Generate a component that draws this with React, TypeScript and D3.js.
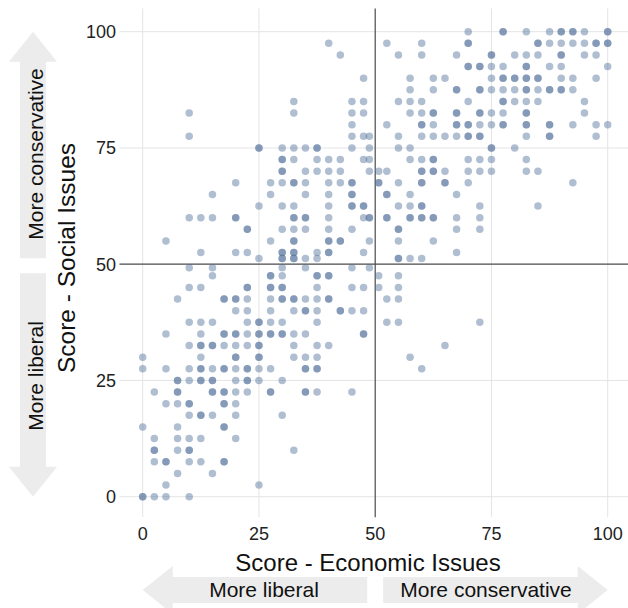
import React from 'react';
import * as d3 from 'd3';

const W = 628;
const H = 608;

const tickValues = [0, 25, 50, 75, 100];
const xTitle = 'Score - Economic Issues';
const yTitle = 'Score - Social Issues';
const xArrowLabels = ['More liberal', 'More conservative'];
const yArrowLabels = ['More conservative', 'More liberal'];

// [social score, economic scores of the respondents at that social score]
const rows: [number, number[]][] = [
  [100, [70, 77.5, 77.5, 82.5, 87.5, 90, 90, 92.5, 92.5, 95, 100, 100]],
  [97.5, [40, 52.5, 60, 70, 70, 85, 85, 87.5, 90, 92.5, 95, 97.5, 97.5, 100, 100]],
  [95, [42.5, 55, 60, 67.5, 75, 75, 80, 82.5, 85, 90, 90, 95, 97.5]],
  [92.5, [70, 70, 72.5, 72.5, 75, 77.5, 82.5, 82.5, 87.5, 90, 100]],
  [90, [47.5, 57.5, 62.5, 65, 75, 77.5, 77.5, 80, 80, 82.5, 82.5, 85, 85, 90, 92.5, 97.5]],
  [87.5, [57.5, 62.5, 67.5, 67.5, 72.5, 72.5, 75, 77.5, 80, 82.5, 82.5, 85, 87.5, 87.5, 90, 90, 92.5]],
  [85, [32.5, 45, 47.5, 55, 57.5, 60, 70, 77.5, 77.5, 80, 82.5, 85, 95]],
  [82.5, [10, 32.5, 45, 47.5, 57.5, 60, 62.5, 62.5, 67.5, 67.5, 72.5, 72.5, 75, 77.5, 82.5, 82.5, 95]],
  [80, [45, 52.5, 60, 60, 62.5, 67.5, 67.5, 70, 70, 72.5, 75, 77.5, 77.5, 82.5, 82.5, 87.5, 87.5, 92.5, 97.5, 100]],
  [77.5, [10, 45, 47.5, 48.75, 55, 60, 62.5, 65, 67.5, 70, 70, 72.5, 72.5, 82.5, 87.5, 87.5, 97.5]],
  [75, [25, 25, 30, 32.5, 35, 37.5, 37.5, 45, 48.75, 55, 57.5, 75, 75, 80]],
  [72.5, [30, 30, 32.5, 37.5, 40, 42.5, 47.5, 48.75, 57.5, 60, 62.5, 62.5, 70, 72.5, 75, 82.5]],
  [70, [30, 30, 35, 37.5, 40, 42.5, 48.75, 50.75, 52.5, 60, 60, 62.5, 62.5, 65, 70, 72.5, 75, 82.5, 85]],
  [67.5, [20, 27.5, 30, 32.5, 32.5, 35, 40, 42.5, 45, 45, 50.75, 50.75, 55, 60, 60, 65, 65, 70, 92.5]],
  [65, [15, 27.5, 35, 40, 45, 45, 52.5, 52.5, 57.5, 67.5]],
  [62.5, [25, 30, 32.5, 40, 45, 45, 47.5, 47.5, 55, 57.5, 60, 60, 72.5, 85]],
  [60, [10, 12.5, 15, 20, 20, 32.5, 32.5, 35, 35, 40, 47.5, 48.75, 48.75, 52.5, 52.5, 57.5, 57.5, 60, 60, 62.5, 62.5, 67.5, 72.5]],
  [57.5, [22.5, 22.5, 30, 32.5, 35, 40, 45, 55, 55, 67.5, 72.5]],
  [55, [5, 27.5, 32.5, 32.5, 40, 40, 42.5, 42.5, 48.75, 55, 62.5]],
  [52.5, [12.5, 20, 22.5, 30, 30, 32.5, 32.5, 37.5, 40, 40, 47.5, 67.5]],
  [51.25, [25, 30, 30, 32.5, 32.5, 35, 37.5, 55, 55, 57.5, 60]],
  [49.25, [10, 15, 30, 35, 45, 48.75]],
  [47.5, [15, 27.5, 27.5, 30, 37.5, 37.5, 40, 40, 50.75, 55]],
  [45, [10, 12.5, 22.5, 22.5, 27.5, 27.5, 30, 30, 37.5, 45, 47.5, 50.75, 55]],
  [42.5, [7.5, 17.5, 17.5, 20, 20, 22.5, 27.5, 30, 30, 32.5, 32.5, 35, 37.5, 40, 40, 52.5, 55]],
  [40, [20, 22.5, 27.5, 32.5, 35, 35, 37.5, 42.5, 42.5, 45, 47.5]],
  [37.5, [10, 12.5, 15, 22.5, 25, 25, 27.5, 30, 37.5, 52.5, 55, 72.5]],
  [35, [5, 12.5, 17.5, 17.5, 20, 20, 22.5, 25, 25, 27.5, 27.5, 30, 30, 32.5, 35, 47.5, 47.5]],
  [32.5, [10, 12.5, 12.5, 15, 15, 17.5, 20, 22.5, 25, 25, 32.5, 37.5, 40, 65]],
  [30, [0, 12.5, 20, 20, 25, 25, 32.5, 35, 37.5, 57.5]],
  [27.5, [0, 5, 10, 12.5, 12.5, 15, 17.5, 17.5, 20, 22.5, 22.5, 25, 27.5, 35, 35, 37.5, 37.5, 60]],
  [25, [7.5, 7.5, 10, 12.5, 12.5, 15, 15, 20, 22.5, 22.5, 25, 30]],
  [22.5, [2.5, 7.5, 7.5, 15, 15, 17.5, 17.5, 20, 22.5, 27.5, 27.5, 35, 35, 37.5, 45]],
  [20, [5, 7.5, 10, 10, 17.5, 17.5, 20]],
  [17.5, [10, 12.5, 12.5, 15, 20, 30]],
  [15, [0, 7.5, 17.5, 17.5]],
  [12.5, [2.5, 7.5, 10, 12.5, 20]],
  [10, [2.5, 2.5, 7.5, 10, 10, 32.5]],
  [7.5, [2.5, 5, 5, 10, 12.5, 17.5, 17.5]],
  [5, [7.5, 15]],
  [2.5, [5, 25]],
  [0, [0, 0, 2.5, 5, 10]],
];

const FONT = "'Liberation Sans', Arial, Helvetica, sans-serif";
const ARROW = '#ececec';
const DOT = '#4f6f99';

export default function App() {
  const x = d3.scaleLinear().domain([-5, 105]).range([119.45, 630.95]);
  const y = d3.scaleLinear().domain([-5, 105]).range([519.95, 8.45]);

  const points = rows.flatMap(([s, econ]) => econ.map((e) => ({ e, s })));

  const headLen = 30;
  const headHalf = 24;
  const shaftHalf = 13;
  const gap = 7;

  // horizontal arrows
  const cy = 590;
  const lt = x(0);
  const rt = x(100);
  const mid = x(50);
  const leftArrow = `M${lt},${cy} L${lt + headLen},${cy - headHalf} L${lt + headLen},${cy - shaftHalf} L${mid - gap - 1},${cy - shaftHalf} L${mid - gap - 1},${cy + shaftHalf} L${lt + headLen},${cy + shaftHalf} L${lt + headLen},${cy + headHalf} Z`;
  const rightArrow = `M${rt},${cy} L${rt - headLen},${cy - headHalf} L${rt - headLen},${cy - shaftHalf} L${mid + gap + 1},${cy - shaftHalf} L${mid + gap + 1},${cy + shaftHalf} L${rt - headLen},${cy + shaftHalf} L${rt - headLen},${cy + headHalf} Z`;

  // vertical arrows
  const cx = 33;
  const tt = y(100);
  const bt = y(0);
  const ymid = y(50);
  const upArrow = `M${cx},${tt} L${cx + headHalf},${tt + headLen} L${cx + shaftHalf},${tt + headLen} L${cx + shaftHalf},${ymid - gap + 1} L${cx - shaftHalf},${ymid - gap + 1} L${cx - shaftHalf},${tt + headLen} L${cx - headHalf},${tt + headLen} Z`;
  const downArrow = `M${cx},${bt} L${cx + headHalf},${bt - headLen} L${cx + shaftHalf},${bt - headLen} L${cx + shaftHalf},${ymid + gap + 2} L${cx - shaftHalf},${ymid + gap + 2} L${cx - shaftHalf},${bt - headLen} L${cx - headHalf},${bt - headLen} Z`;

  return (
    <svg
      width={W}
      height={H}
      style={{ position: 'absolute', left: 0, top: 0, background: '#fff' }}
      fontFamily={FONT}
    >
      <rect x={0} y={0} width={W} height={H} fill="#fff" />
      {/* grid */}
      {tickValues
        .filter((t) => t !== 50)
        .map((t) => (
          <g key={'g' + t}>
            <line x1={x(t)} x2={x(t)} y1={y(105)} y2={y(-4.4)} stroke="#e4e4e4" strokeWidth={1} />
            <line x1={x(-5)} x2={x(105)} y1={y(t)} y2={y(t)} stroke="#e4e4e4" strokeWidth={1} />
          </g>
        ))}
      {/* center rules */}
      <line x1={x(50)} x2={x(50)} y1={y(105)} y2={y(-4.4)} stroke="#4a4a4a" strokeWidth={1.2} />
      <line x1={x(-5)} x2={x(105)} y1={y(50)} y2={y(50)} stroke="#4a4a4a" strokeWidth={1.2} />

      {/* points */}
      {points.map((p, i) => (
        <circle key={i} cx={x(p.e)} cy={y(p.s)} r={3.75} fill={DOT} fillOpacity={0.45} />
      ))}

      {/* tick labels */}
      {tickValues.map((t) => (
        <text key={'yt' + t} x={116} y={y(t)} dy="0.35em" textAnchor="end" fontSize={18} fill="#222">
          {t}
        </text>
      ))}
      {tickValues.map((t) => (
        <text key={'xt' + t} x={x(t)} y={540} textAnchor="middle" fontSize={18} fill="#222">
          {t}
        </text>
      ))}

      {/* axis titles */}
      <text x={368} y={571} textAnchor="middle" fontSize={24} fill="#111">
        {xTitle}
      </text>
      <text
        transform={`translate(75,258) rotate(-90)`}
        textAnchor="middle"
        fontSize={24.5}
        fill="#111"
      >
        {yTitle}
      </text>

      {/* direction arrows */}
      <path d={leftArrow} fill={ARROW} />
      <path d={rightArrow} fill={ARROW} />
      <path d={upArrow} fill={ARROW} />
      <path d={downArrow} fill={ARROW} />

      <text x={264} y={597} textAnchor="middle" fontSize={21} fill="#111">
        {xArrowLabels[0]}
      </text>
      <text x={486} y={597} textAnchor="middle" fontSize={21} fill="#111">
        {xArrowLabels[1]}
      </text>
      <text transform={`translate(43,154) rotate(-90)`} textAnchor="middle" fontSize={21} fill="#111">
        {yArrowLabels[0]}
      </text>
      <text transform={`translate(43,376) rotate(-90)`} textAnchor="middle" fontSize={21} fill="#111">
        {yArrowLabels[1]}
      </text>
    </svg>
  );
}
